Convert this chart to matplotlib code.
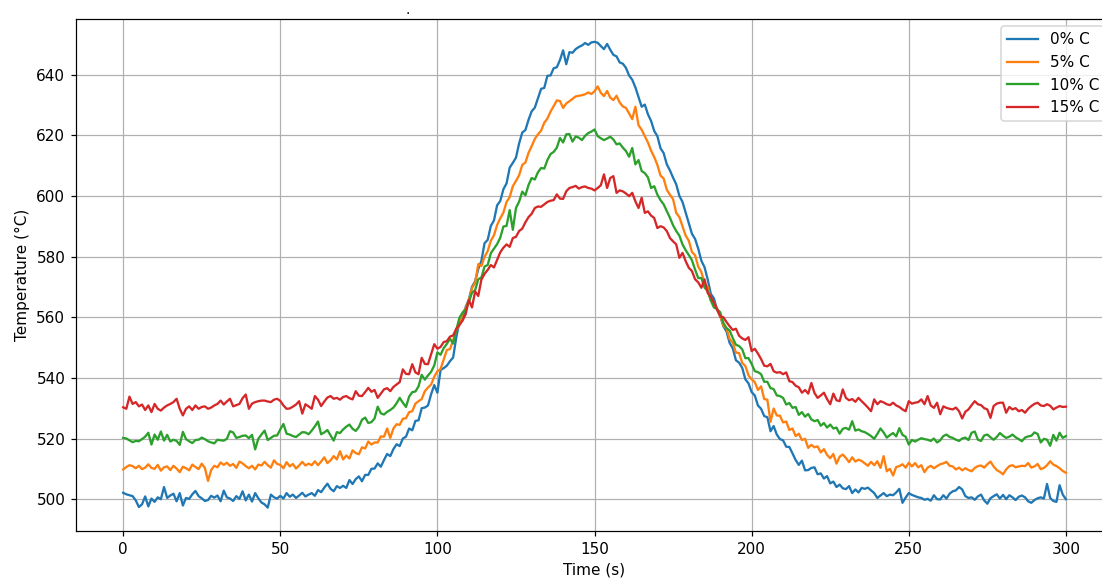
import numpy as np
import matplotlib
matplotlib.use("Agg")
import matplotlib.pyplot as plt

# temperature readings, one per second
time = np.arange(0, 301)

temp_0 = [
    502.1, 501.6, 501.3, 501.0, 499.6, 497.4, 498.3, 500.9, 497.6, 500.2,
    499.1, 500.6, 500.0, 504.0, 500.4, 501.2, 501.8, 499.3, 502.0, 497.9,
    500.4, 500.1, 501.6, 502.7, 501.0, 500.3, 499.4, 499.7, 501.1, 500.5,
    501.2, 499.3, 502.8, 500.6, 500.2, 499.4, 501.0, 500.1, 502.6, 499.6,
    501.5, 499.2, 502.0, 500.3, 498.9, 498.3, 497.2, 501.5, 500.6, 500.2,
    501.1, 500.2, 502.0, 500.8, 501.5, 500.4, 501.2, 502.1, 500.9, 501.5,
    502.0, 501.1, 503.0, 502.3, 503.8, 505.1, 503.4, 502.6, 504.3, 503.7,
    504.4, 503.7, 506.3, 505.0, 506.6, 507.5, 505.9, 508.0, 508.0, 510.0,
    510.1, 511.8, 510.7, 512.9, 514.9, 514.2, 516.5, 518.1, 517.5, 520.0,
    520.6, 523.3, 522.7, 525.8, 526.0, 530.0, 530.2, 530.9, 534.6, 537.6,
    535.1, 542.6, 543.2, 544.0, 545.5, 546.7, 553.3, 558.5, 559.1, 563.4,
    565.8, 570.0, 571.8, 575.9, 578.6, 584.4, 585.5, 590.1, 591.9, 596.9,
    598.3, 602.2, 604.1, 609.3, 610.9, 612.6, 617.3, 620.9, 621.7, 625.1,
    627.9, 629.1, 632.2, 635.3, 635.6, 639.6, 639.7, 642.1, 642.4, 644.8,
    648.0, 643.4, 647.4, 647.2, 648.4, 649.1, 649.6, 650.4, 649.8, 650.6,
    650.8, 650.5, 649.4, 648.4, 650.1, 648.2, 646.5, 646.0, 644.0, 643.6,
    642.2, 639.7, 638.3, 635.8, 632.6, 629.4, 630.1, 626.9, 624.7, 621.4,
    619.7, 615.7, 614.1, 610.4, 608.4, 606.0, 603.8, 600.0, 598.0, 594.5,
    591.0, 587.5, 585.8, 582.6, 578.6, 576.5, 572.5, 567.7, 566.2, 562.4,
    560.5, 557.0, 555.3, 551.5, 549.7, 545.8, 545.0, 543.3, 539.5, 538.2,
    535.3, 534.2, 530.9, 529.8, 527.4, 527.0, 522.4, 524.1, 521.3, 519.8,
    519.4, 517.3, 517.2, 515.1, 512.9, 511.3, 512.7, 509.5, 509.6, 510.3,
    510.5, 508.2, 508.5, 506.8, 507.6, 505.2, 505.8, 504.0, 504.8, 503.6,
    503.3, 504.3, 502.0, 503.2, 502.2, 503.7, 503.4, 503.8, 502.9, 502.0,
    500.4, 501.2, 502.0, 501.0, 501.5, 501.3, 502.2, 503.4, 498.8, 500.5,
    502.0, 501.4, 501.0, 500.6, 500.4, 499.8, 500.1, 499.5, 501.3, 500.0,
    499.9, 501.3, 500.2, 501.8, 502.6, 502.9, 504.0, 503.2, 501.0, 500.4,
    500.6, 499.8, 500.9, 501.5, 499.6, 498.5, 500.3, 501.0, 501.6, 500.2,
    501.4, 500.0, 501.3, 500.6, 499.7, 500.8, 501.2, 500.6, 499.3, 498.8,
    499.7, 500.3, 500.6, 500.2, 505.0, 500.4, 499.4, 499.1, 504.6, 501.5,
    500.0,
]

temp_5 = [
    509.8, 510.6, 511.2, 510.9, 510.2, 511.0, 509.9, 510.4, 511.5, 510.3,
    510.0, 511.3, 509.4, 510.5, 510.8, 509.6, 511.0, 510.1, 508.9, 510.7,
    510.2, 509.5, 511.4, 510.6, 509.9, 511.7, 510.3, 506.0, 509.6, 511.0,
    510.5, 512.1, 511.3, 512.0, 511.0, 511.6, 510.3, 512.4, 511.8, 510.9,
    510.2, 511.0, 509.8, 511.4, 511.1, 512.3, 511.2, 510.4, 512.8, 511.6,
    511.3, 510.2, 512.2, 510.8, 511.6, 510.1, 511.1, 512.3, 511.1, 511.7,
    511.2, 512.5, 511.2, 512.4, 513.8, 511.9, 512.8, 514.2, 513.1, 515.8,
    513.1, 514.4, 513.4, 516.1, 515.2, 514.8, 517.1, 516.7, 519.0, 518.0,
    518.7, 518.7, 520.7, 520.6, 523.3, 520.2, 523.3, 524.7, 524.5, 526.5,
    526.7, 528.7, 529.0, 531.5, 532.3, 533.0, 535.6, 536.8, 537.8, 540.4,
    542.2, 542.9, 546.0, 549.2, 549.5, 552.4, 555.7, 557.4, 561.3, 563.0,
    565.5, 569.6, 571.3, 577.5, 576.9, 579.9, 581.8, 585.2, 587.0, 590.4,
    592.6, 594.5, 598.0, 599.6, 603.2, 604.9, 606.8, 610.2, 611.0, 614.2,
    616.4, 618.8, 620.3, 621.5, 624.1, 625.5, 627.8, 629.6, 631.5, 631.3,
    629.0, 630.5, 631.2, 632.0, 632.8, 633.0, 633.2, 633.5, 634.1, 633.6,
    634.5, 636.1, 634.0, 632.9, 634.6, 632.4, 631.6, 633.0, 630.8, 629.5,
    629.0, 627.2, 625.3, 629.4, 623.3, 621.8, 619.7, 617.6, 614.9, 612.8,
    610.2, 606.7, 605.7, 602.0, 600.4, 598.9, 594.4, 593.0, 590.0, 586.9,
    585.2, 581.5, 580.4, 576.7, 574.9, 571.2, 570.0, 565.6, 564.9, 562.6,
    560.4, 557.2, 556.3, 552.8, 551.6, 548.3, 548.2, 544.9, 543.9, 540.8,
    539.5, 538.6, 536.0, 537.2, 533.0, 532.8, 525.5, 529.9, 527.6, 527.5,
    525.3, 525.6, 522.8, 523.3, 520.8, 521.6, 519.5, 519.9, 516.9, 517.9,
    517.1, 517.4, 515.4, 516.5, 514.6, 513.5, 514.9, 511.7, 514.0, 514.7,
    513.6, 512.2, 513.8, 512.4, 513.0, 512.6, 511.8, 511.0, 512.3, 511.2,
    512.5, 510.3, 514.2, 509.2, 510.0, 507.8, 510.6, 510.9, 511.5, 510.4,
    512.0, 510.8, 511.9, 510.5, 511.2, 508.9, 510.4, 511.0, 510.2, 510.9,
    511.5, 511.8, 512.3, 511.0, 510.8, 509.8, 510.4, 509.5, 510.2, 509.6,
    509.2, 510.3, 510.9, 511.1, 510.4, 511.5, 512.4, 510.8, 509.6, 509.0,
    508.2, 509.8, 510.9, 511.2, 510.5, 510.8, 511.0, 510.9, 511.9, 510.4,
    510.8, 511.6, 509.9, 510.3, 511.2, 512.5, 511.4, 510.9, 510.2, 509.3,
    508.7,
]

temp_10 = [
    520.2, 520.0, 519.4, 518.8, 519.2, 519.1, 519.8, 520.6, 521.9, 518.0,
    521.3, 519.6, 522.3, 519.3, 521.2, 519.0, 519.6, 519.2, 517.9, 522.2,
    519.8, 519.1, 518.5, 519.5, 519.6, 520.3, 519.8, 519.1, 518.7, 518.4,
    519.6, 519.4, 519.3, 519.9, 522.4, 522.0, 520.2, 520.5, 520.9, 521.0,
    520.1, 521.2, 516.4, 519.9, 521.3, 522.6, 519.5, 520.2, 520.9, 521.0,
    523.0, 524.8, 521.6, 521.3, 520.8, 520.5, 521.3, 522.1, 522.0, 521.4,
    522.6, 524.0, 525.6, 521.4, 522.0, 522.8, 521.0, 519.3, 522.1, 521.8,
    523.0, 523.9, 524.6, 523.2, 522.5, 523.8, 526.2, 526.9, 525.1, 525.4,
    526.6, 530.5, 528.3, 527.9, 528.8, 529.4, 530.2, 531.6, 533.4, 531.8,
    530.4, 533.8, 535.3, 535.5, 537.2, 541.0, 539.4, 540.8, 542.0, 544.1,
    548.4, 547.6, 549.8, 551.2, 552.9, 551.3, 555.8, 559.8, 561.5, 562.6,
    564.9, 568.1, 568.9, 572.5, 573.1, 576.7, 577.2, 581.1, 582.6, 584.1,
    586.2, 589.9, 590.1, 595.3, 588.8, 596.0, 598.1, 601.4, 600.2, 603.6,
    605.9, 605.4, 607.8, 609.2, 609.0, 611.8, 613.8, 614.5, 615.9, 619.1,
    617.6, 620.3, 620.4, 617.9, 619.6, 619.2, 618.4, 619.8, 620.7, 621.2,
    621.9, 619.7, 619.0, 618.4, 618.9, 619.5, 618.6, 617.0, 617.3, 615.9,
    614.8, 612.9, 615.8, 610.4, 611.8, 608.2, 607.5, 606.1, 602.6, 603.2,
    600.4, 598.6, 597.2, 595.0, 592.8, 590.3, 588.4, 586.9, 584.0, 582.1,
    580.5, 578.8, 575.7, 572.9, 572.9, 569.8, 568.6, 565.5, 563.2, 562.7,
    561.6, 558.1, 556.4, 555.6, 553.1, 550.9, 550.5, 549.4, 546.5, 546.5,
    544.6, 542.2, 541.9, 541.2, 538.7, 538.7, 536.6, 536.3, 534.2, 534.0,
    533.4, 531.2, 531.7, 530.1, 530.4, 527.8, 528.7, 527.2, 528.1, 526.3,
    525.7, 526.1, 524.2, 525.1, 523.6, 524.6, 523.3, 523.6, 521.6, 523.2,
    523.5, 522.9, 525.7, 522.6, 523.0, 522.4, 522.1, 521.5, 520.8, 519.9,
    521.5, 523.3, 522.0, 520.3, 521.1, 521.8, 520.7, 523.4, 521.2, 520.6,
    518.0, 519.5, 519.0, 519.6, 520.1, 519.8, 519.6, 519.2, 520.0, 518.7,
    519.4, 520.8, 521.3, 520.5, 520.2, 519.6, 519.2, 520.0, 520.3, 519.5,
    521.9, 522.3, 519.6, 519.2, 521.0, 521.3, 520.4, 519.6, 520.5, 521.8,
    520.9, 520.2, 520.6, 521.3, 520.4, 519.8, 519.1, 520.3, 520.7, 520.9,
    522.0, 521.5, 518.7, 519.9, 519.6, 517.6, 521.2, 519.3, 521.9, 520.2,
    520.8,
]

temp_15 = [
    530.3, 529.8, 533.8, 531.4, 532.0, 530.6, 531.2, 529.4, 530.9, 528.7,
    531.4, 529.8, 529.2, 530.2, 530.9, 531.4, 532.0, 533.1, 529.8, 527.6,
    529.8, 530.6, 529.4, 530.9, 529.8, 530.4, 530.6, 529.8, 530.2, 530.9,
    531.4, 532.5, 531.2, 532.2, 533.1, 530.6, 531.0, 531.4, 533.3, 534.5,
    529.8, 531.5, 532.0, 532.3, 532.5, 532.5, 532.2, 532.0, 532.8, 533.1,
    532.4, 530.9, 529.8, 529.9, 530.5, 531.2, 532.3, 528.2, 531.3, 530.6,
    529.8, 534.0, 532.8, 530.7, 532.2, 533.5, 534.0, 533.1, 533.4, 532.8,
    533.7, 534.0, 533.3, 532.9, 535.6, 534.1, 534.0, 535.3, 536.7, 535.4,
    536.0, 533.4, 534.8, 536.2, 536.6, 535.6, 537.0, 537.8, 538.6, 542.8,
    541.3, 541.2, 544.5, 541.8, 541.2, 546.6, 544.6, 544.5, 547.8, 551.1,
    549.6, 550.2, 551.8, 552.1, 553.6, 554.0, 556.2, 557.4, 558.9, 561.0,
    565.7, 563.2, 568.5, 567.0, 572.4, 574.3, 575.6, 577.2, 576.4, 578.9,
    581.4, 582.9, 584.0, 583.2, 586.1, 586.5, 588.4, 589.2, 591.3, 593.0,
    594.1, 596.0, 596.5, 596.4, 597.2, 598.0, 598.4, 598.6, 600.5, 599.1,
    599.0, 601.5, 602.6, 602.9, 603.3, 602.4, 602.9, 603.1, 602.6, 602.4,
    601.8, 602.6, 603.5, 607.1, 602.6, 605.9, 606.5, 601.0, 601.8, 601.5,
    600.8, 599.9, 601.0, 598.2, 596.0, 599.4, 594.4, 594.9, 593.5, 592.7,
    589.4, 590.0, 589.6, 588.4, 586.1, 585.0, 584.0, 579.6, 581.2, 578.5,
    576.3, 575.2, 572.5, 571.5, 569.7, 572.5, 568.0, 566.7, 564.8, 562.6,
    560.2, 560.0, 558.4, 557.0, 555.8, 556.2, 553.9, 553.0, 552.5, 553.4,
    548.8, 549.6, 548.0, 546.2, 544.0, 543.8, 544.6, 542.2, 541.7, 541.9,
    541.2, 541.8, 538.9, 538.6, 537.4, 536.9, 535.1, 536.0, 534.8, 538.3,
    535.0, 533.4, 534.2, 535.1, 533.0, 531.3, 534.8, 532.6, 532.3, 536.2,
    533.4, 532.6, 533.0, 532.1, 533.4, 532.3, 531.3, 530.2, 529.0, 532.9,
    531.3, 532.3, 531.9, 531.3, 531.0, 531.8, 530.9, 530.4, 529.6, 529.0,
    532.3, 531.5, 531.8, 532.0, 532.9, 531.3, 534.0, 530.9, 530.1, 531.8,
    528.0, 530.6, 530.1, 529.8, 529.6, 530.2, 529.0, 526.6, 528.8, 529.6,
    531.0, 532.3, 531.3, 531.0, 530.0, 529.6, 526.8, 530.7, 531.5, 531.8,
    531.8, 528.5, 530.4, 529.6, 530.0, 529.0, 529.4, 528.5, 529.8, 530.7,
    531.4, 531.8, 530.9, 530.7, 531.3, 530.8, 529.6, 530.2, 530.7, 530.4,
    530.5,
]

labels = ['0% C', '5% C', '10% C', '15% C']

dpi = 110
fig = plt.figure(figsize=(1102 / dpi, 579 / dpi), dpi=dpi)
ax = fig.add_axes([0.069, 0.083, 0.941, 0.885])

for series, name in zip([temp_0, temp_5, temp_10, temp_15], labels):
    ax.plot(time, series, label=name)

ax.set_xlabel('Time (s)')
ax.set_ylabel('Temperature (°C)')
ax.grid(True)
ax.legend(loc='upper right')

fig.text(408 / 1102, 1 - 10 / 579, '.', ha='center', va='center', fontsize=9)

fig.savefig('out.png', dpi=dpi)
